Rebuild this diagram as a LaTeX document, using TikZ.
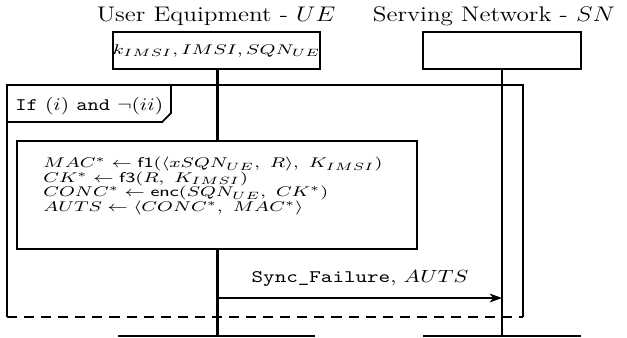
\documentclass[tikz,border=0pt]{standalone}
\usepackage{graphicx}
\usetikzlibrary{positioning, arrows.meta}
\newcommand{\stretchtext}[2][1.19]{\scalebox{#1}[1]{#2}}
\begin{document}
\begin{tikzpicture}[
        x=0.568pt, y=-0.568pt,
        title/.style={anchor=base, font=\large},
        thread/.style={draw, line width=1pt, fill=white, inner sep=0pt, minimum height=21pt, font=\footnotesize},
        lifeline/.style={line width=1.4pt},
        frame/.style={line width=1pt},
        textline/.style={anchor=base west, inner sep=0pt, font=\footnotesize},
        msg/.style={line width=1pt, -{Stealth[length=7pt, width=5pt, inset=2pt]}}
    ]
    \useasboundingbox (0,0) rectangle (627,337);

    \node[title] (ueName) at (216,21) {\stretchtext{User Equipment - $UE$}};
    \node[title] (snName) at (494,21) {\stretchtext{Serving Network - $SN$}};

    \node[thread, minimum width=111.9pt] (ue) at (216.5,50.5) {\stretchtext[1.36]{$k_{IMSI}, IMSI, SQN_{UE}$}};
    \node[thread, minimum width=89.7pt] (sn) at (502,50.5) {};

    \coordinate (ueEnd) at (217.5,337);
    \coordinate (snEnd) at (502,337);
    \draw[lifeline] (ue.south -| ueEnd) -- (ueEnd);
    \draw[lifeline] (sn) -- (snEnd);

    % ends of the threads
    \draw[frame] (118,336) -- (315,336);
    \draw[frame] (423,336) -- (581,336);

    % frame of the condition
    \draw[frame] (7,317) -- (7,85) -- (523,85) -- (523,317);
    \draw[frame, dash pattern=on 5.7pt off 4pt] (7,317) -- (523,317);
    \draw[frame] (7,122) -- (162,122) -- (171,113) -- (171,85);
    \node[textline, font=\normalsize] (cond) at (15,110) {\stretchtext[1.22]{\texttt{If} $(i)$ \texttt{and} $\neg(ii)$}};

    \node[draw, frame, fill=white, inner sep=0pt, minimum width=227.2pt, minimum height=61.3pt] (calc) at (217,195) {};
    \node[anchor=north west, inner sep=0pt, align=left,
          font={\footnotesize\baselineskip=8.24pt\lineskiplimit=-20pt}] (steps) at (43,157)
        {\stretchtext[1.35]{$MAC^{*} \leftarrow \mathsf{f1}(\langle xSQN_{UE},\ R\rangle,\ K_{IMSI})$}\\
         \stretchtext[1.35]{$CK^{*} \leftarrow \mathsf{f3}(R,\ K_{IMSI})$}\\
         \stretchtext[1.35]{$CONC^{*} \leftarrow \mathsf{enc}(SQN_{UE},\ CK^{*})$}\\
         \stretchtext[1.35]{$AUTS \leftarrow \langle CONC^{*},\ MAC^{*}\rangle$}};

    \coordinate (syncFrom) at (217.5,298);
    \coordinate (syncTo) at (502,298);
    \draw[msg] (syncFrom) -- (syncTo);
    \node[anchor=base] (syncLabel) at (360,282) {\stretchtext[1.25]{\texttt{Sync\_Failure}, $AUTS$}};
\end{tikzpicture}
\end{document}
